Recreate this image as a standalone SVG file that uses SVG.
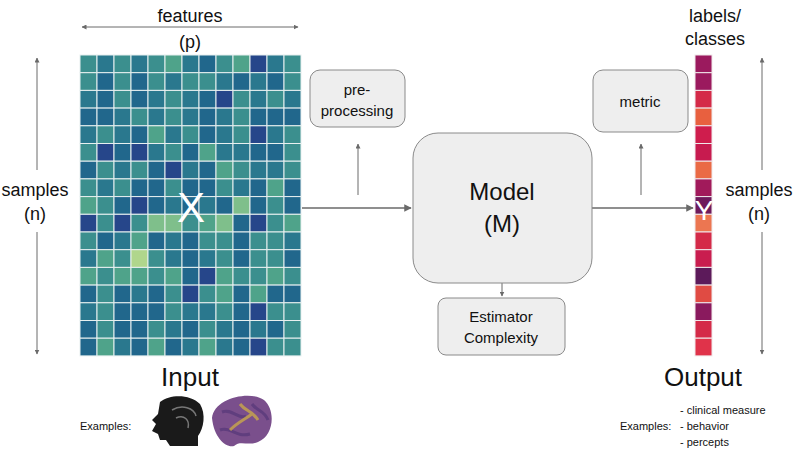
<svg xmlns="http://www.w3.org/2000/svg" width="800" height="451" viewBox="0 0 800 451">
<style>
text{font-family:"Liberation Sans",Arial,sans-serif;fill:#111}
.box{fill:#eeeeee;stroke:#8a8a8a;stroke-width:1}
.ln{stroke:#6a6a6a;stroke-width:1.5;fill:none}
.A{fill:#2a788e}.B{fill:#21678c}.C{fill:#3b8f8e}.D{fill:#4fa38a}.E{fill:#7fbf8b}.F{fill:#26468a}.G{fill:#b0d68c}
</style>
<defs>
<marker id="ah" viewBox="0 0 10 10" refX="9" refY="5" markerWidth="5" markerHeight="5" orient="auto-start-reverse"><path d="M0,0L10,5L0,10z" fill="#6a6a6a"/></marker>
</defs>
<rect width="800" height="451" fill="#fff"/>
<g id="X" stroke="#e8f0f0" stroke-width="1">
<g transform="translate(80,55)">
<g><rect class="C" x="0" y="0" width="17" height="17.7"/><rect class="A" x="17" y="0" width="17" height="17.7"/><rect class="C" x="34" y="0" width="17" height="17.7"/><rect class="A" x="51" y="0" width="17" height="17.7"/><rect class="C" x="68" y="0" width="17" height="17.7"/><rect class="D" x="85" y="0" width="17" height="17.7"/><rect class="A" x="102" y="0" width="17" height="17.7"/><rect class="B" x="119" y="0" width="17" height="17.7"/><rect class="C" x="136" y="0" width="17" height="17.7"/><rect class="D" x="153" y="0" width="17" height="17.7"/><rect class="F" x="170" y="0" width="17" height="17.7"/><rect class="A" x="187" y="0" width="17" height="17.7"/><rect class="C" x="204" y="0" width="17" height="17.7"/></g>
<g transform="translate(0,17.7)"><rect class="C" x="0" y="0" width="17" height="17.7"/><rect class="B" x="17" y="0" width="17" height="17.7"/><rect class="C" x="34" y="0" width="17" height="17.7"/><rect class="B" x="51" y="0" width="17" height="17.7"/><rect class="C" x="68" y="0" width="17" height="17.7"/><rect class="A" x="85" y="0" width="17" height="17.7"/><rect class="C" x="102" y="0" width="17" height="17.7"/><rect class="C" x="119" y="0" width="17" height="17.7"/><rect class="A" x="136" y="0" width="17" height="17.7"/><rect class="B" x="153" y="0" width="17" height="17.7"/><rect class="A" x="170" y="0" width="17" height="17.7"/><rect class="B" x="187" y="0" width="17" height="17.7"/><rect class="C" x="204" y="0" width="17" height="17.7"/></g>
<g transform="translate(0,35.4)"><rect class="A" x="0" y="0" width="17" height="17.7"/><rect class="B" x="17" y="0" width="17" height="17.7"/><rect class="C" x="34" y="0" width="17" height="17.7"/><rect class="B" x="51" y="0" width="17" height="17.7"/><rect class="A" x="68" y="0" width="17" height="17.7"/><rect class="C" x="85" y="0" width="17" height="17.7"/><rect class="A" x="102" y="0" width="17" height="17.7"/><rect class="B" x="119" y="0" width="17" height="17.7"/><rect class="F" x="136" y="0" width="17" height="17.7"/><rect class="C" x="153" y="0" width="17" height="17.7"/><rect class="A" x="170" y="0" width="17" height="17.7"/><rect class="C" x="187" y="0" width="17" height="17.7"/><rect class="A" x="204" y="0" width="17" height="17.7"/></g>
<g transform="translate(0,53.1)"><rect class="B" x="0" y="0" width="17" height="17.7"/><rect class="B" x="17" y="0" width="17" height="17.7"/><rect class="A" x="34" y="0" width="17" height="17.7"/><rect class="C" x="51" y="0" width="17" height="17.7"/><rect class="A" x="68" y="0" width="17" height="17.7"/><rect class="C" x="85" y="0" width="17" height="17.7"/><rect class="A" x="102" y="0" width="17" height="17.7"/><rect class="B" x="119" y="0" width="17" height="17.7"/><rect class="A" x="136" y="0" width="17" height="17.7"/><rect class="C" x="153" y="0" width="17" height="17.7"/><rect class="B" x="170" y="0" width="17" height="17.7"/><rect class="B" x="187" y="0" width="17" height="17.7"/><rect class="B" x="204" y="0" width="17" height="17.7"/></g>
<g transform="translate(0,70.8)"><rect class="A" x="0" y="0" width="17" height="17.7"/><rect class="C" x="17" y="0" width="17" height="17.7"/><rect class="A" x="34" y="0" width="17" height="17.7"/><rect class="B" x="51" y="0" width="17" height="17.7"/><rect class="D" x="68" y="0" width="17" height="17.7"/><rect class="A" x="85" y="0" width="17" height="17.7"/><rect class="C" x="102" y="0" width="17" height="17.7"/><rect class="B" x="119" y="0" width="17" height="17.7"/><rect class="A" x="136" y="0" width="17" height="17.7"/><rect class="C" x="153" y="0" width="17" height="17.7"/><rect class="F" x="170" y="0" width="17" height="17.7"/><rect class="A" x="187" y="0" width="17" height="17.7"/><rect class="C" x="204" y="0" width="17" height="17.7"/></g>
<g transform="translate(0,88.5)"><rect class="C" x="0" y="0" width="17" height="17.7"/><rect class="F" x="17" y="0" width="17" height="17.7"/><rect class="B" x="34" y="0" width="17" height="17.7"/><rect class="F" x="51" y="0" width="17" height="17.7"/><rect class="A" x="68" y="0" width="17" height="17.7"/><rect class="C" x="85" y="0" width="17" height="17.7"/><rect class="B" x="102" y="0" width="17" height="17.7"/><rect class="D" x="119" y="0" width="17" height="17.7"/><rect class="A" x="136" y="0" width="17" height="17.7"/><rect class="A" x="153" y="0" width="17" height="17.7"/><rect class="B" x="170" y="0" width="17" height="17.7"/><rect class="B" x="187" y="0" width="17" height="17.7"/><rect class="C" x="204" y="0" width="17" height="17.7"/></g>
<g transform="translate(0,106.2)"><rect class="B" x="0" y="0" width="17" height="17.7"/><rect class="C" x="17" y="0" width="17" height="17.7"/><rect class="A" x="34" y="0" width="17" height="17.7"/><rect class="C" x="51" y="0" width="17" height="17.7"/><rect class="B" x="68" y="0" width="17" height="17.7"/><rect class="F" x="85" y="0" width="17" height="17.7"/><rect class="A" x="102" y="0" width="17" height="17.7"/><rect class="B" x="119" y="0" width="17" height="17.7"/><rect class="D" x="136" y="0" width="17" height="17.7"/><rect class="C" x="153" y="0" width="17" height="17.7"/><rect class="A" x="170" y="0" width="17" height="17.7"/><rect class="A" x="187" y="0" width="17" height="17.7"/><rect class="C" x="204" y="0" width="17" height="17.7"/></g>
<g transform="translate(0,123.9)"><rect class="C" x="0" y="0" width="17" height="17.7"/><rect class="A" x="17" y="0" width="17" height="17.7"/><rect class="C" x="34" y="0" width="17" height="17.7"/><rect class="B" x="51" y="0" width="17" height="17.7"/><rect class="B" x="68" y="0" width="17" height="17.7"/><rect class="C" x="85" y="0" width="17" height="17.7"/><rect class="B" x="102" y="0" width="17" height="17.7"/><rect class="B" x="119" y="0" width="17" height="17.7"/><rect class="C" x="136" y="0" width="17" height="17.7"/><rect class="A" x="153" y="0" width="17" height="17.7"/><rect class="B" x="170" y="0" width="17" height="17.7"/><rect class="D" x="187" y="0" width="17" height="17.7"/><rect class="B" x="204" y="0" width="17" height="17.7"/></g>
<g transform="translate(0,141.6)"><rect class="D" x="0" y="0" width="17" height="17.7"/><rect class="C" x="17" y="0" width="17" height="17.7"/><rect class="B" x="34" y="0" width="17" height="17.7"/><rect class="F" x="51" y="0" width="17" height="17.7"/><rect class="B" x="68" y="0" width="17" height="17.7"/><rect class="A" x="85" y="0" width="17" height="17.7"/><rect class="B" x="102" y="0" width="17" height="17.7"/><rect class="A" x="119" y="0" width="17" height="17.7"/><rect class="B" x="136" y="0" width="17" height="17.7"/><rect class="E" x="153" y="0" width="17" height="17.7"/><rect class="B" x="170" y="0" width="17" height="17.7"/><rect class="C" x="187" y="0" width="17" height="17.7"/><rect class="B" x="204" y="0" width="17" height="17.7"/></g>
<g transform="translate(0,159.3)"><rect class="F" x="0" y="0" width="17" height="17.7"/><rect class="C" x="17" y="0" width="17" height="17.7"/><rect class="F" x="34" y="0" width="17" height="17.7"/><rect class="C" x="51" y="0" width="17" height="17.7"/><rect class="E" x="68" y="0" width="17" height="17.7"/><rect class="E" x="85" y="0" width="17" height="17.7"/><rect class="C" x="102" y="0" width="17" height="17.7"/><rect class="D" x="119" y="0" width="17" height="17.7"/><rect class="E" x="136" y="0" width="17" height="17.7"/><rect class="B" x="153" y="0" width="17" height="17.7"/><rect class="F" x="170" y="0" width="17" height="17.7"/><rect class="C" x="187" y="0" width="17" height="17.7"/><rect class="D" x="204" y="0" width="17" height="17.7"/></g>
<g transform="translate(0,177)"><rect class="C" x="0" y="0" width="17" height="17.7"/><rect class="B" x="17" y="0" width="17" height="17.7"/><rect class="A" x="34" y="0" width="17" height="17.7"/><rect class="D" x="51" y="0" width="17" height="17.7"/><rect class="B" x="68" y="0" width="17" height="17.7"/><rect class="A" x="85" y="0" width="17" height="17.7"/><rect class="B" x="102" y="0" width="17" height="17.7"/><rect class="C" x="119" y="0" width="17" height="17.7"/><rect class="C" x="136" y="0" width="17" height="17.7"/><rect class="B" x="153" y="0" width="17" height="17.7"/><rect class="C" x="170" y="0" width="17" height="17.7"/><rect class="C" x="187" y="0" width="17" height="17.7"/><rect class="A" x="204" y="0" width="17" height="17.7"/></g>
<g transform="translate(0,194.7)"><rect class="A" x="0" y="0" width="17" height="17.7"/><rect class="D" x="17" y="0" width="17" height="17.7"/><rect class="C" x="34" y="0" width="17" height="17.7"/><rect class="G" x="51" y="0" width="17" height="17.7"/><rect class="C" x="68" y="0" width="17" height="17.7"/><rect class="A" x="85" y="0" width="17" height="17.7"/><rect class="B" x="102" y="0" width="17" height="17.7"/><rect class="A" x="119" y="0" width="17" height="17.7"/><rect class="C" x="136" y="0" width="17" height="17.7"/><rect class="B" x="153" y="0" width="17" height="17.7"/><rect class="C" x="170" y="0" width="17" height="17.7"/><rect class="C" x="187" y="0" width="17" height="17.7"/><rect class="B" x="204" y="0" width="17" height="17.7"/></g>
<g transform="translate(0,212.4)"><rect class="D" x="0" y="0" width="17" height="17.7"/><rect class="C" x="17" y="0" width="17" height="17.7"/><rect class="D" x="34" y="0" width="17" height="17.7"/><rect class="D" x="51" y="0" width="17" height="17.7"/><rect class="C" x="68" y="0" width="17" height="17.7"/><rect class="D" x="85" y="0" width="17" height="17.7"/><rect class="B" x="102" y="0" width="17" height="17.7"/><rect class="F" x="119" y="0" width="17" height="17.7"/><rect class="D" x="136" y="0" width="17" height="17.7"/><rect class="C" x="153" y="0" width="17" height="17.7"/><rect class="C" x="170" y="0" width="17" height="17.7"/><rect class="D" x="187" y="0" width="17" height="17.7"/><rect class="C" x="204" y="0" width="17" height="17.7"/></g>
<g transform="translate(0,230.1)"><rect class="B" x="0" y="0" width="17" height="17.7"/><rect class="C" x="17" y="0" width="17" height="17.7"/><rect class="B" x="34" y="0" width="17" height="17.7"/><rect class="A" x="51" y="0" width="17" height="17.7"/><rect class="B" x="68" y="0" width="17" height="17.7"/><rect class="C" x="85" y="0" width="17" height="17.7"/><rect class="F" x="102" y="0" width="17" height="17.7"/><rect class="C" x="119" y="0" width="17" height="17.7"/><rect class="D" x="136" y="0" width="17" height="17.7"/><rect class="B" x="153" y="0" width="17" height="17.7"/><rect class="D" x="170" y="0" width="17" height="17.7"/><rect class="B" x="187" y="0" width="17" height="17.7"/><rect class="B" x="204" y="0" width="17" height="17.7"/></g>
<g transform="translate(0,247.8)"><rect class="A" x="0" y="0" width="17" height="17.7"/><rect class="C" x="17" y="0" width="17" height="17.7"/><rect class="B" x="34" y="0" width="17" height="17.7"/><rect class="B" x="51" y="0" width="17" height="17.7"/><rect class="B" x="68" y="0" width="17" height="17.7"/><rect class="C" x="85" y="0" width="17" height="17.7"/><rect class="A" x="102" y="0" width="17" height="17.7"/><rect class="A" x="119" y="0" width="17" height="17.7"/><rect class="C" x="136" y="0" width="17" height="17.7"/><rect class="B" x="153" y="0" width="17" height="17.7"/><rect class="F" x="170" y="0" width="17" height="17.7"/><rect class="C" x="187" y="0" width="17" height="17.7"/><rect class="C" x="204" y="0" width="17" height="17.7"/></g>
<g transform="translate(0,265.5)"><rect class="B" x="0" y="0" width="17" height="17.7"/><rect class="C" x="17" y="0" width="17" height="17.7"/><rect class="B" x="34" y="0" width="17" height="17.7"/><rect class="B" x="51" y="0" width="17" height="17.7"/><rect class="C" x="68" y="0" width="17" height="17.7"/><rect class="A" x="85" y="0" width="17" height="17.7"/><rect class="B" x="102" y="0" width="17" height="17.7"/><rect class="C" x="119" y="0" width="17" height="17.7"/><rect class="A" x="136" y="0" width="17" height="17.7"/><rect class="B" x="153" y="0" width="17" height="17.7"/><rect class="A" x="170" y="0" width="17" height="17.7"/><rect class="B" x="187" y="0" width="17" height="17.7"/><rect class="C" x="204" y="0" width="17" height="17.7"/></g>
<g transform="translate(0,283.2)"><rect class="B" x="0" y="0" width="17" height="17.7"/><rect class="D" x="17" y="0" width="17" height="17.7"/><rect class="A" x="34" y="0" width="17" height="17.7"/><rect class="B" x="51" y="0" width="17" height="17.7"/><rect class="D" x="68" y="0" width="17" height="17.7"/><rect class="B" x="85" y="0" width="17" height="17.7"/><rect class="A" x="102" y="0" width="17" height="17.7"/><rect class="D" x="119" y="0" width="17" height="17.7"/><rect class="A" x="136" y="0" width="17" height="17.7"/><rect class="B" x="153" y="0" width="17" height="17.7"/><rect class="F" x="170" y="0" width="17" height="17.7"/><rect class="C" x="187" y="0" width="17" height="17.7"/><rect class="C" x="204" y="0" width="17" height="17.7"/></g>
</g>
<text x="191" y="222" font-size="42" text-anchor="middle" style="fill:#fff" stroke="none">X</text>
</g>
<g id="Y" stroke="#f0e8ea" stroke-width="1" transform="translate(695,55)">
<rect x="0" y="0" width="17" height="17.7" fill="#9b1a5e"/>
<rect x="0" y="17.7" width="17" height="17.7" fill="#9b1a5e"/>
<rect x="0" y="35.4" width="17" height="17.7" fill="#d42a48"/>
<rect x="0" y="53.1" width="17" height="17.7" fill="#e8603f"/>
<rect x="0" y="70.8" width="17" height="17.7" fill="#cf1d4d"/>
<rect x="0" y="88.5" width="17" height="17.7" fill="#c71b4f"/>
<rect x="0" y="106.2" width="17" height="17.7" fill="#ea6a45"/>
<rect x="0" y="123.9" width="17" height="17.7" fill="#a11a5b"/>
<rect x="0" y="141.6" width="17" height="17.7" fill="#6e1a5c"/>
<rect x="0" y="159.3" width="17" height="17.7" fill="#ec7651"/>
<rect x="0" y="177" width="17" height="17.7" fill="#d42a48"/>
<rect x="0" y="194.7" width="17" height="17.7" fill="#c91d4f"/>
<rect x="0" y="212.4" width="17" height="17.7" fill="#5c1a5a"/>
<rect x="0" y="230.1" width="17" height="17.7" fill="#e04b43"/>
<rect x="0" y="247.8" width="17" height="17.7" fill="#8a1a5e"/>
<rect x="0" y="265.5" width="17" height="17.7" fill="#d42a48"/>
<rect x="0" y="283.2" width="17" height="17.7" fill="#e0334a"/>
<text x="9" y="165" font-size="28" text-anchor="middle" style="fill:#fff" stroke="none">Y</text>
</g>
<g id="connectors" class="ln">
<line x1="82" y1="27" x2="298" y2="27" marker-start="url(#ah)" marker-end="url(#ah)" stroke-width="1"/>
<line x1="37" y1="58" x2="37" y2="170" marker-start="url(#ah)" stroke-width="1"/>
<line x1="37" y1="232" x2="37" y2="354" marker-end="url(#ah)" stroke-width="1"/>
<line x1="762" y1="58" x2="762" y2="170" marker-start="url(#ah)" stroke-width="1"/>
<line x1="762" y1="232" x2="762" y2="354" marker-end="url(#ah)" stroke-width="1"/>
<line x1="302" y1="208" x2="411" y2="208" marker-end="url(#ah)"/>
<line x1="592" y1="208" x2="693" y2="208" marker-end="url(#ah)"/>
<line x1="358" y1="195" x2="358" y2="144" marker-end="url(#ah)" stroke-width="1"/>
<line x1="641" y1="195" x2="641" y2="144" marker-end="url(#ah)" stroke-width="1"/>
<line x1="502" y1="283" x2="502" y2="296" marker-end="url(#ah)" stroke-width="1"/>
</g>
<g id="preprocessing"><rect class="box" x="310" y="70" width="95" height="57" rx="10"/><text x="357" y="95" font-size="15" text-anchor="middle">pre-</text><text x="357" y="116" font-size="15" text-anchor="middle">processing</text></g>
<g id="model"><rect class="box" x="413" y="133" width="179" height="150" rx="25"/><text x="502" y="200" font-size="24" text-anchor="middle">Model</text><text x="502" y="232" font-size="24" text-anchor="middle">(M)</text></g>
<g id="estimator"><rect class="box" x="438" y="298" width="127" height="57" rx="8"/><text x="501" y="322" font-size="15" text-anchor="middle">Estimator</text><text x="501" y="343" font-size="15" text-anchor="middle">Complexity</text></g>
<g id="metric"><rect class="box" x="593" y="70" width="95" height="62" rx="10"/><text x="640" y="107" font-size="15" text-anchor="middle">metric</text></g>
<g id="labels">
<text x="190" y="22" font-size="18" text-anchor="middle">features</text>
<text x="190" y="48" font-size="18" text-anchor="middle">(p)</text>
<text x="35" y="196" font-size="18" text-anchor="middle">samples</text>
<text x="35" y="220" font-size="18" text-anchor="middle">(n)</text>
<text x="759" y="196" font-size="18" text-anchor="middle">samples</text>
<text x="759" y="220" font-size="18" text-anchor="middle">(n)</text>
<text x="715" y="22" font-size="18" text-anchor="middle">labels/</text>
<text x="715" y="45" font-size="18" text-anchor="middle">classes</text>
<text x="190" y="386" font-size="26" text-anchor="middle">Input</text>
<text x="703" y="386" font-size="26" text-anchor="middle">Output</text>
<text x="80" y="430" font-size="11">Examples:</text>
<text x="620" y="430" font-size="11">Examples:</text>
<text x="680" y="414" font-size="11">- clinical measure</text>
<text x="680" y="430" font-size="11">- behavior</text>
<text x="680" y="446" font-size="11">- percepts</text>
</g>
<g id="images">
<path d="M160,402 C170,394 190,394 200,404 C206,414 204,428 198,436 L198,446 L170,446 L166,440 L160,440 L158,434 L152,431 L156,424 L152,420 L158,414 Z" fill="#1a1a1a"/>
<path d="M172,410 C182,404 194,408 196,416 M176,418 C184,414 190,420 188,428" stroke="#777" stroke-width="1.5" fill="none"/>
<path d="M212,418 C214,398 250,390 264,400 C276,410 274,436 258,442 C248,446 240,440 234,446 C226,448 214,438 212,418 Z" fill="#7a4f8c"/>
<path d="M222,412 C232,408 238,420 246,416 M220,430 C230,426 236,438 250,434 M252,404 C258,412 264,410 268,420" stroke="#5a3a7a" stroke-width="3" fill="none" opacity="0.8"/>
<path d="M230,430 C238,422 244,420 252,414 M240,404 C246,412 252,410 258,420" stroke="#c9a84a" stroke-width="3" fill="none" opacity="0.8"/>
</g>
</svg>
